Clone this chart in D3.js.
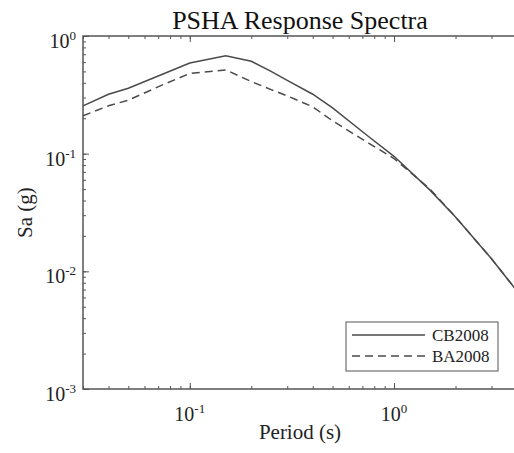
<!DOCTYPE html>
<meta charset="utf-8">
<style>
  body { margin: 0; background: #fff; }
</style>

<!-- Load d3.js -->
<script src="https://d3js.org/d3.v7.min.js"></script>

<!-- Create a div where the graph will take place -->
<div id="my_dataviz"></div>

<script>

// periods (s) and spectral accelerations (g)
var periods = [0.03, 0.04, 0.05, 0.075, 0.1, 0.15, 0.2, 0.25, 0.3, 0.4, 0.5, 0.75, 1, 1.5, 2, 3, 4];
var cb2008 = [0.255, 0.32, 0.36, 0.48, 0.59, 0.68, 0.61, 0.50, 0.42, 0.32, 0.245, 0.14, 0.095, 0.049, 0.029, 0.0128, 0.0068];
var ba2008 = [0.21, 0.255, 0.285, 0.39, 0.48, 0.515, 0.41, 0.35, 0.31, 0.25, 0.19, 0.123, 0.091, 0.05, 0.029, 0.0128, 0.0068];
var seriesNames = ["CB2008", "BA2008"];
var xMajor = [0.1, 1];
var yMajor = [1, 0.1, 0.01, 0.001];

// set the dimensions and margins of the graph
var margin = {top: 36, right: -3, bottom: 64, left: 83},
  width = 514 - margin.left - margin.right,
  height = 453 - margin.top - margin.bottom;

var axisColor = "#555";
var serif = "'Liberation Serif', 'Times New Roman', serif";

// append the svg object to the body of the page
var svg = d3.select("#my_dataviz")
.append("svg")
  .attr("width", 514)
  .attr("height", 453)
  .style("font-family", serif)
.append("g")
  .attr("transform", "translate(" + margin.left + "," + margin.top + ")");

// log scales
var x = d3.scaleLog()
  .domain([0.03, 4])
  .range([0, width]);
var y = d3.scaleLog()
  .domain([0.001, 1])
  .range([height, 0]);

// ticks drawn inside the box, minor ones shorter (matlab style)
function styleAxis(g) {
  g.select(".domain").remove();
  g.selectAll("line").attr("stroke", axisColor).attr("stroke-width", 1);
}
svg.append("g").attr("transform", "translate(0," + height + ")")
  .call(d3.axisBottom(x).tickValues(x.ticks()).tickSize(-3).tickFormat("")).call(styleAxis);
svg.append("g").attr("transform", "translate(0," + height + ")")
  .call(d3.axisBottom(x).tickValues(xMajor).tickSize(-6).tickFormat("")).call(styleAxis);
svg.append("g")
  .call(d3.axisTop(x).tickValues(x.ticks()).tickSize(-3).tickFormat("")).call(styleAxis);
svg.append("g")
  .call(d3.axisTop(x).tickValues(xMajor).tickSize(-6).tickFormat("")).call(styleAxis);
svg.append("g")
  .call(d3.axisLeft(y).tickValues(y.ticks()).tickSize(-3).tickFormat("")).call(styleAxis);
svg.append("g")
  .call(d3.axisLeft(y).tickValues(yMajor).tickSize(-6).tickFormat("")).call(styleAxis);

// box
svg.append("path")
  .attr("d", "M" + width + ",0H0V" + height + "H" + width)
  .attr("fill", "none")
  .attr("stroke", axisColor)
  .attr("stroke-width", 1.5);

// power-of-ten labels
function powLabel(sel) {
  sel.each(function(d) {
    var t = d3.select(this);
    t.append("tspan").text("10");
    t.append("tspan").attr("dy", -8).style("font-size", "13px")
      .text(String(Math.round(Math.log10(d))));
  });
}
svg.selectAll(".xlab")
  .data(xMajor)
  .enter()
  .append("text")
    .attr("x", function(d) { return x(d); })
    .attr("y", height + 32)
    .attr("text-anchor", "middle")
    .style("font-size", "20px")
    .style("fill", "#222")
    .call(powLabel);
svg.selectAll(".ylab")
  .data(yMajor)
  .enter()
  .append("text")
    .attr("x", -7)
    .attr("y", function(d) { return y(d) + 12; })
    .attr("text-anchor", "end")
    .style("font-size", "20px")
    .style("fill", "#222")
    .call(powLabel);

// lines
var line = d3.line()
  .x(function(d) { return x(d[0]); })
  .y(function(d) { return y(d[1]); });
var series = [cb2008, ba2008];
var dashes = [null, "8,5"];
series.forEach(function(vals, i) {
  svg.append("path")
    .datum(periods.map(function(p, j) { return [p, vals[j]]; }))
    .attr("fill", "none")
    .attr("stroke", "#4a4a4a")
    .attr("stroke-width", 1.5)
    .attr("stroke-dasharray", dashes[i])
    .attr("d", line);
});

// legend
var legend = svg.append("g").attr("transform", "translate(263,286)");
legend.append("rect")
  .attr("width", 152)
  .attr("height", 49)
  .attr("fill", "#fff")
  .attr("stroke", axisColor)
  .attr("stroke-width", 1);
seriesNames.forEach(function(name, i) {
  var cy = 13 + i * 21;
  legend.append("line")
    .attr("x1", 6).attr("x2", 79)
    .attr("y1", cy).attr("y2", cy)
    .attr("stroke", "#4a4a4a")
    .attr("stroke-width", 1.5)
    .attr("stroke-dasharray", dashes[i]);
  legend.append("text")
    .attr("x", 86)
    .attr("y", cy + 6)
    .style("font-size", "17px")
    .style("fill", "#222")
    .text(name);
});

// title and axis labels
svg.append("text")
  .attr("x", width / 2)
  .attr("y", -7)
  .attr("text-anchor", "middle")
  .style("font-size", "26px")
  .style("fill", "#111")
  .text("PSHA Response Spectra");
svg.append("text")
  .attr("x", width / 2)
  .attr("y", height + 50)
  .attr("text-anchor", "middle")
  .style("font-size", "21px")
  .style("fill", "#222")
  .text("Period (s)");
svg.append("text")
  .attr("transform", "translate(" + (-51) + "," + (height / 2) + ") rotate(-90)")
  .attr("text-anchor", "middle")
  .style("font-size", "21px")
  .style("fill", "#222")
  .text("Sa (g)");

</script>
